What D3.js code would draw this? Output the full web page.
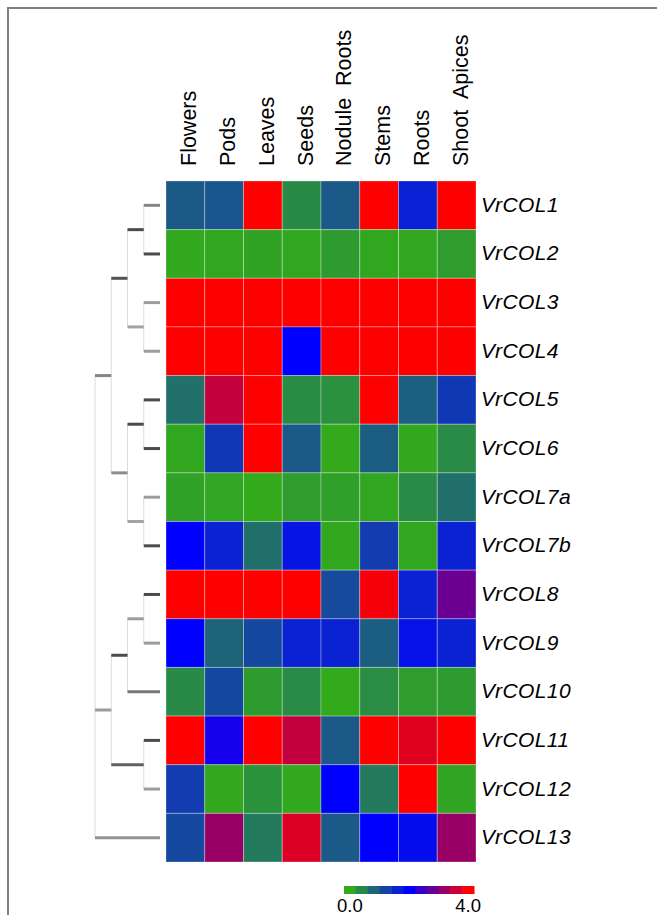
<!DOCTYPE html>
<html>
<head>
<meta charset="utf-8">
<script src="https://cdn.jsdelivr.net/npm/d3@7"></script>
<style>
  body { margin: 0; background: #fff; }
  svg { display: block; font-family: "Liberation Sans", Arial, sans-serif; }
</style>
</head>
<body>
<svg id="chart"></svg>
<script>
// tissues (columns) and genes (rows)
var tissues = ["Flowers", "Pods", "Leaves", "Seeds", "Nodule  Roots", "Stems", "Roots", "Shoot  Apices"];
var genes = ["VrCOL1", "VrCOL2", "VrCOL3", "VrCOL4", "VrCOL5", "VrCOL6", "VrCOL7a",
             "VrCOL7b", "VrCOL8", "VrCOL9", "VrCOL10", "VrCOL11", "VrCOL12", "VrCOL13"];

// expression level per gene, one value per tissue (0 - 4 scale)
var expression = [
    [0.94, 1.0, 4.0, 0.38, 0.95, 4.0, 1.62, 4.0],
    [0.02, 0.03, 0.08, 0.03, 0.18, 0.03, 0.03, 0.15],
    [4.0, 4.0, 4.0, 4.0, 4.0, 4.0, 4.0, 4.0],
    [4.0, 4.0, 4.0, 2.0, 4.0, 4.0, 4.0, 4.0],
    [0.68, 3.52, 4.0, 0.35, 0.3, 4.0, 0.88, 1.34],
    [0.03, 1.35, 4.0, 0.95, 0.0, 0.9, 0.02, 0.37],
    [0.1, 0.05, 0.0, 0.15, 0.12, 0.04, 0.36, 0.7],
    [2.0, 1.6, 0.7, 1.75, 0.02, 1.3, 0.03, 1.6],
    [4.0, 4.0, 4.0, 4.0, 1.13, 3.92, 1.6, 2.85],
    [2.0, 0.82, 1.15, 1.6, 1.6, 0.9, 1.8, 1.6],
    [0.38, 1.15, 0.18, 0.36, 0.0, 0.34, 0.16, 0.18],
    [4.0, 2.16, 4.0, 3.52, 0.95, 4.0, 3.76, 4.0],
    [1.3, 0.02, 0.28, 0.02, 2.0, 0.56, 4.0, 0.06],
    [1.15, 3.2, 0.56, 3.72, 0.95, 2.0, 1.85, 3.2]
];

var legendTicks = ["0.0", "4.0"];

// gene clustering: h = merge level, r = branch correlation (drawn as grey shade)
var tree = { h: 4, r: 0.3, c: [
    { h: 3, r: 0.5, c: [
        { h: 2, r: 0.85, c: [
            { h: 1, r: 0.9, c: [{ name: "VrCOL1", r: 0.5 }, { name: "VrCOL2", r: 0.9 }] },
            { h: 1, r: 0.3, c: [{ name: "VrCOL3", r: 0.35 }, { name: "VrCOL4", r: 0.35 }] }
        ] },
        { h: 2, r: 0.45, c: [
            { h: 1, r: 0.9, c: [{ name: "VrCOL5", r: 0.9 }, { name: "VrCOL6", r: 0.9 }] },
            { h: 1, r: 0.3, c: [{ name: "VrCOL7a", r: 0.35 }, { name: "VrCOL7b", r: 0.9 }] }
        ] }
    ] },
    { h: 3, r: 0.35, c: [
        { h: 2, r: 0.9, c: [
            { h: 1, r: 0.35, c: [{ name: "VrCOL8", r: 0.9 }, { name: "VrCOL9", r: 0.35 }] },
            { name: "VrCOL10", r: 0.6 }
        ] },
        { h: 1, r: 0.75, c: [{ name: "VrCOL11", r: 0.9 }, { name: "VrCOL12", r: 0.35 }] }
    ] },
    { name: "VrCOL13", r: 0.4 }
] };

var width = 657, height = 915;

var svg = d3.select("#chart")
    .attr("width", width)
    .attr("height", height);

// frame (top and left edges)
svg.append("path")
    .attr("d", "M8," + height + "V8H" + width)
    .attr("fill", "none")
    .attr("stroke", "#808080")
    .attr("stroke-width", 2);

// scales
var x = d3.scaleBand().domain(tissues).range([166, 476]);
var y = d3.scaleBand().domain(genes).range([181, 862]);
var color = d3.scaleLinear()
    .domain([0, 2, 4])
    .range(["#32aa1c", "#0000ff", "#ff0000"]);

// heatmap cells
var cells = [];
genes.forEach(function (g, i) {
    tissues.forEach(function (t, j) {
        cells.push({ gene: g, tissue: t, value: expression[i][j] });
    });
});

svg.append("g")
    .selectAll("rect")
    .data(cells)
    .enter().append("rect")
    .attr("x", function (d) { return x(d.tissue); })
    .attr("y", function (d) { return y(d.gene); })
    .attr("width", x.bandwidth())
    .attr("height", y.bandwidth())
    .attr("fill", function (d) { return color(d.value); })
    .attr("stroke", "rgba(255,255,255,0.3)")
    .attr("stroke-width", 1);

// column labels
svg.append("g")
    .selectAll("text")
    .data(tissues)
    .enter().append("text")
    .attr("transform", function (d) {
        return "translate(" + (x(d) + x.bandwidth() / 2 + 11) + ",166) rotate(-90)";
    })
    .style("font-size", "21.5px")
    .style("white-space", "pre")
    .attr("fill", "#000")
    .text(function (d) { return d; });

// row labels
svg.append("g")
    .selectAll("text")
    .data(genes)
    .enter().append("text")
    .attr("x", 481)
    .attr("y", function (d) { return y(d) + y.bandwidth() / 2 + 6.5; })
    .style("font-size", "21px")
    .style("font-style", "italic")
    .style("letter-spacing", "0.4px")
    .attr("fill", "#000")
    .text(function (d) { return d; });

// dendrogram
var root = d3.hierarchy(tree, function (d) { return d.c; });
var xTree = d3.scaleLinear().domain([0, 4]).range([160, 95]);
var shade = d3.scaleLinear().domain([0, 1]).range(["#cfcfcf", "#3c3c3c"]);

root.eachAfter(function (n) {
    if (!n.children) {
        n.py = y(n.data.name) + y.bandwidth() / 2;
        n.px = xTree(0);
    } else {
        n.py = d3.mean(n.children, function (c) { return c.py; });
        n.px = xTree(n.data.h);
    }
});

var dendro = svg.append("g");

dendro.selectAll(".v")
    .data(root.descendants().filter(function (n) { return n.children; }))
    .enter().append("line")
    .attr("class", "v")
    .attr("x1", function (n) { return n.px; })
    .attr("x2", function (n) { return n.px; })
    .attr("y1", function (n) { return d3.min(n.children, function (c) { return c.py; }); })
    .attr("y2", function (n) { return d3.max(n.children, function (c) { return c.py; }); })
    .attr("stroke", "#dcdcdc")
    .attr("stroke-width", 1);

dendro.selectAll(".h")
    .data(root.descendants().filter(function (n) { return n.parent; }))
    .enter().append("line")
    .attr("class", "h")
    .attr("x1", function (n) { return n.parent.px; })
    .attr("x2", function (n) { return n.px; })
    .attr("y1", function (n) { return n.py; })
    .attr("y2", function (n) { return n.py; })
    .attr("stroke", function (n) { return shade(n.data.r); })
    .attr("stroke-width", 3);

// colour key
var steps = d3.range(11).map(function (i) { return i * 0.4; });
var lx = d3.scaleBand().domain(d3.range(11)).range([344, 474]);

svg.append("g")
    .selectAll("rect")
    .data(steps)
    .enter().append("rect")
    .attr("x", function (d, i) { return lx(i); })
    .attr("y", 886)
    .attr("width", lx.bandwidth() + 0.5)
    .attr("height", 8)
    .attr("fill", function (d) { return color(d); });

svg.append("g")
    .selectAll("text")
    .data(legendTicks)
    .enter().append("text")
    .attr("x", function (d, i) { return lx(i === 0 ? 0 : 10) + lx.bandwidth() / 2; })
    .attr("y", 912)
    .attr("text-anchor", "middle")
    .style("font-size", "18.5px")
    .attr("fill", "#000")
    .text(function (d) { return d; });
</script>
</body>
</html>
